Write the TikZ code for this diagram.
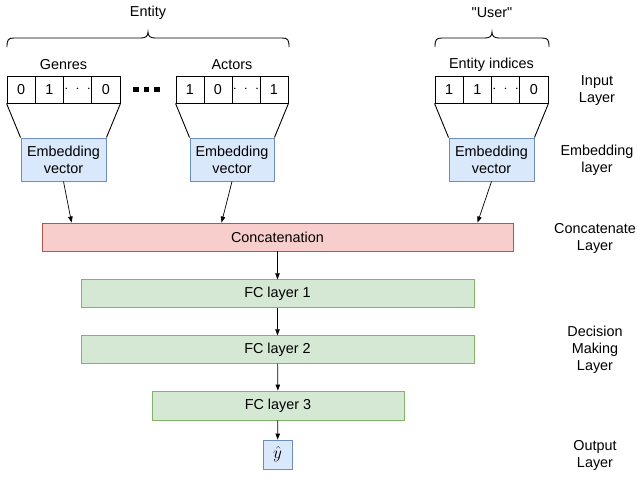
\documentclass[tikz,border=0pt]{standalone}
\usepackage{fontspec}
\setmainfont{Liberation Sans}[Ligatures=TeXOff]
\usetikzlibrary{arrows.meta}

\definecolor{embfill}{HTML}{DAE8FC}
\definecolor{embline}{HTML}{6C8EBF}
\definecolor{catfill}{HTML}{F8CECC}
\definecolor{catline}{HTML}{B85450}
\definecolor{fcfill}{HTML}{D5E8D4}
\definecolor{fcline}{HTML}{82B366}

\newcommand{\celldots}{$\cdot\;\cdot\;\cdot$}

\begin{document}
\begin{tikzpicture}[x=1pt,y=-1pt,
  font=\fontsize{14.4}{17}\selectfont,
  line width=0.9pt,
  cell/.style={draw, minimum width=28.25pt, minimum height=27pt, inner sep=0pt},
  emb/.style={draw=embline, fill=embfill, minimum width=85pt, minimum height=43pt,
    align=center, inner sep=0pt},
  catbox/.style={draw=catline, fill=catfill, minimum width=471pt, minimum height=28pt, inner sep=0pt},
  fcbox/.style={draw=fcline, fill=fcfill, minimum height=27.5pt, inner sep=0pt},
  lbl/.style={align=center, inner sep=0pt},
  arr/.style={-{Triangle[length=6pt,width=4.5pt]}, line width=0.7pt},
  dotsq/.style={fill=black, minimum size=5.5pt, inner sep=0pt},
]
\useasboundingbox (0,0) rectangle (637,477);

% group titles and braces
\node[lbl] (entity) at (148,13) {Entity};
\node[lbl] (user) at (492,13) {"User"};
\draw (7,47) .. controls (7,40) and (8,38) .. (14,38) -- (141,38)
  .. controls (146,38) and (148,36) .. (148,32)
  .. controls (148,36) and (150,38) .. (155,38) -- (282,38)
  .. controls (288,38) and (289,40) .. (289,47);
\draw (435,47) .. controls (435,40) and (436,38) .. (442,38) -- (485,38)
  .. controls (490,38) and (492,36) .. (492,32)
  .. controls (492,36) and (494,38) .. (499,38) -- (542,38)
  .. controls (548,38) and (549,40) .. (549,47);

% feature names
\node[lbl] (genres) at (63.5,65) {Genres};
\node[lbl] (actors) at (232,65) {Actors};
\node[lbl] (indices) at (491.5,65) {Entity indices};

% one-hot input cells
\node[cell] (g1) at (21.1,89.5) {0};
\node[cell] (g2) at (49.4,89.5) {1};
\node[cell] (g3) at (77.6,89.5) {\celldots};
\node[cell] (g4) at (105.9,89.5) {0};

\node[cell, minimum width=28pt] (a1) at (190,89.5) {1};
\node[cell, minimum width=28pt] (a2) at (218,89.5) {0};
\node[cell, minimum width=28pt] (a3) at (246,89.5) {\celldots};
\node[cell, minimum width=28pt] (a4) at (274,89.5) {1};

\node[cell] (u1) at (449.1,89.5) {1};
\node[cell] (u2) at (477.4,89.5) {1};
\node[cell] (u3) at (505.6,89.5) {\celldots};
\node[cell] (u4) at (533.9,89.5) {0};

% ellipsis between feature groups
\node[dotsq] (sq1) at (136,89.5) {};
\node[dotsq] (sq2) at (146.5,89.5) {};
\node[dotsq] (sq3) at (157,89.5) {};

% embedding vectors
\node[emb] (eg) at (63.5,159.5) {Embedding\\vector};
\node[emb, minimum width=84pt] (ea) at (232,159.5) {Embedding\\vector};
\node[emb] (eu) at (491.5,159.5) {Embedding\\vector};

% funnels from inputs to embeddings
\draw (g1.south west) -- (eg.north west);
\draw (g4.south east) -- (eg.north east);
\draw (a1.south west) -- (ea.north west);
\draw (a4.south east) -- (ea.north east);
\draw (u1.south west) -- (eu.north west);
\draw (u4.south east) -- (eu.north east);

% concatenation and dense layers
\node[catbox] (cat) at (277.5,237) {Concatenation};
\node[fcbox, minimum width=393pt] (fc1) at (277.5,293.5) {FC layer 1};
\node[fcbox, minimum width=393pt] (fc2) at (277.5,349.5) {FC layer 2};
\node[fcbox, minimum width=252pt, minimum height=29pt] (fc3) at (278,405.5) {FC layer 3};
\node[draw=embline, fill=embfill, minimum size=29pt, inner sep=0pt,
  font=\fontsize{18}{20}\selectfont] (yhat) at (277.5,454.5) {$\hat{y}$};

\draw[arr] (eg.south) -- ([xshift=30pt]cat.north west);
\draw[arr] (ea.south) -- ([xshift=180pt]cat.north west);
\draw[arr] (eu.south) -- ([xshift=436pt]cat.north west);
\draw[arr] (cat) -- (fc1);
\draw[arr] (fc1) -- (fc2);
\draw[arr] (fc2) -- (fc3);
\draw[arr] (fc3) -- (yhat);

% layer names
\node[lbl] (linput) at (597,91) {Input\\Layer};
\node[lbl] (lemb) at (597,160.5) {Embedding\\layer};
\node[lbl] (lcat) at (595,238) {Concatenate\\Layer};
\node[lbl] (ldec) at (595,350) {Decision\\Making\\Layer};
\node[lbl] (lout) at (595,455) {Output\\Layer};
\end{tikzpicture}
\end{document}
